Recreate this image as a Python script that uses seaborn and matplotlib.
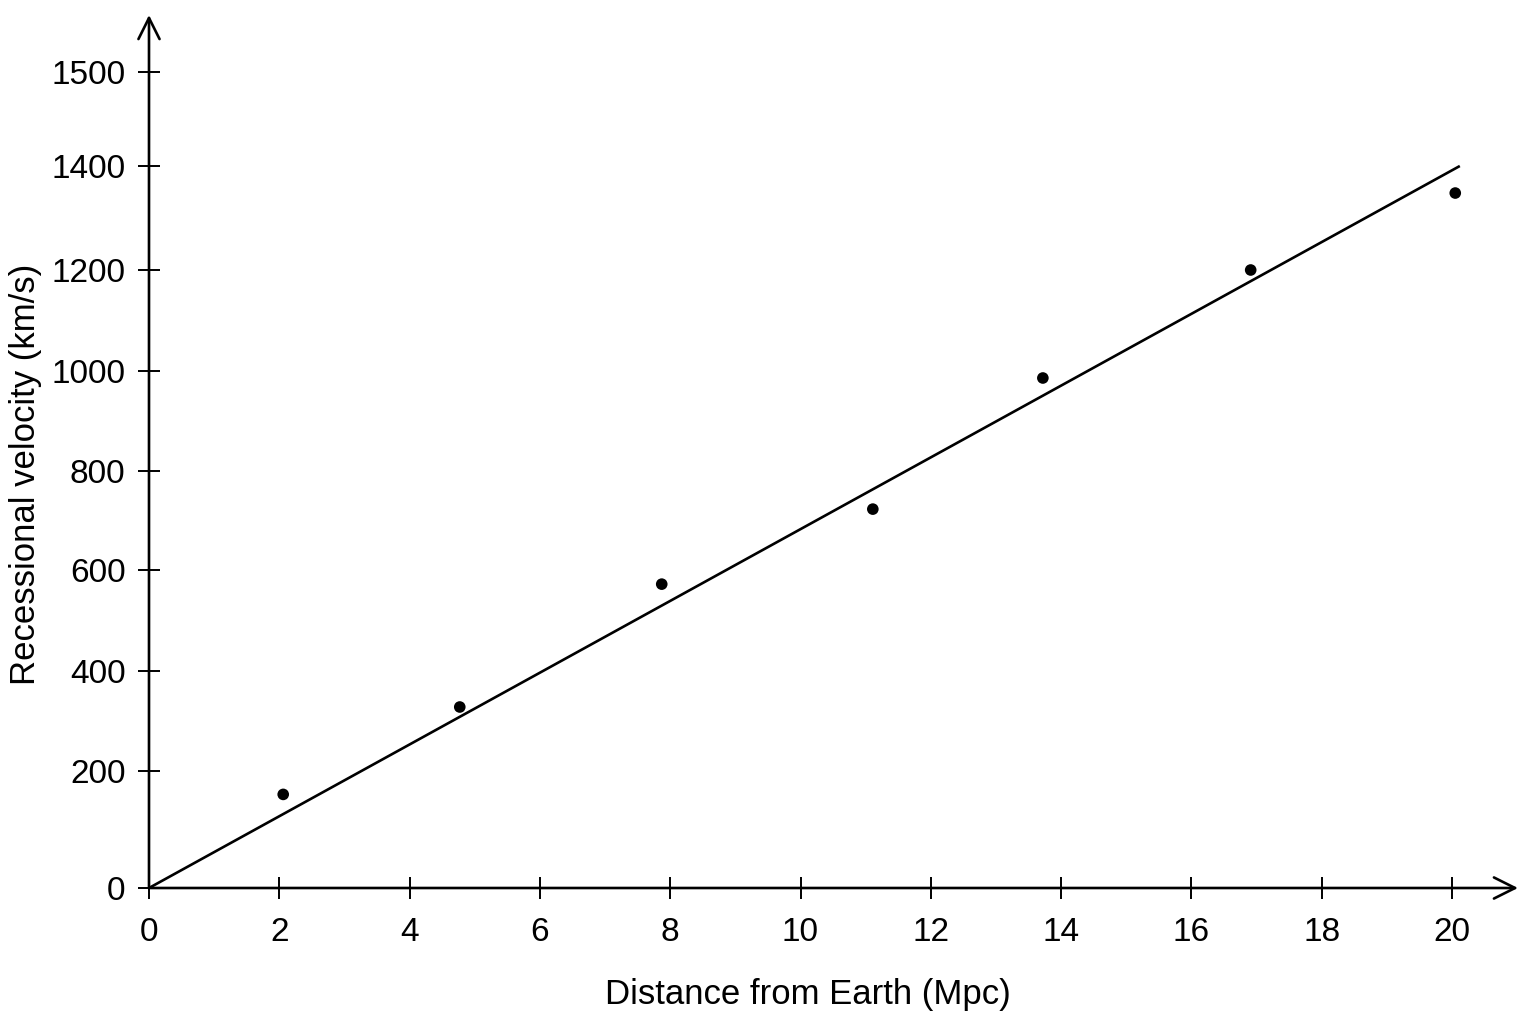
import numpy as np
import matplotlib
matplotlib.use("Agg")
import matplotlib.pyplot as plt
import seaborn as sns
import pandas as pd

# ---- data ----
distance_mpc = [2.06, 4.77, 7.87, 11.11, 13.72, 16.91, 20.05]
velocity_kms = [160, 328, 572, 723, 986, 1200, 1348]
fit_x = [0.0, 20.12]
fit_y = [0.0, 1400.0]
x_ticks = [0, 2, 4, 6, 8, 10, 12, 14, 16, 18, 20]
y_ticks = [0, 200, 400, 600, 800, 1000, 1200, 1400, 1500]
# printed (hand-drawn) axis: tick values and their spacing along the axis
y_scale_vals = [0, 200, 400, 600, 800, 1000, 1200, 1400, 1500, 1600]
y_scale_pos = [0, 117, 217, 318, 417, 517, 618, 722, 816, 910]

sns.set_theme(style="white")
plt.rcParams['font.family'] = ['Liberation Sans', 'DejaVu Sans']

df = pd.DataFrame({"d": distance_mpc, "v": velocity_kms})

fig = plt.figure(figsize=(15.36, 10.24), dpi=100)
ax = fig.add_axes([149/1536, 1 - 888/1024, (1518 - 149)/1536, (888 - 15)/1024])

def fwd(v):
    return np.interp(v, y_scale_vals, y_scale_pos)

def inv(p):
    return np.interp(p, y_scale_pos, y_scale_vals)

ax.set_yscale('function', functions=(fwd, inv))

ax.plot(fit_x, fit_y, color='black', lw=1.9, solid_capstyle='butt')
sns.scatterplot(data=df, x="d", y="v", ax=ax, color='black', s=70, edgecolor='none', zorder=3)

ax.set_xlim(0, (1518 - 149) / 65.15)
ax.set_ylim(0, inv(873))
ax.set_xticks(x_ticks)
ax.set_yticks(y_ticks)
ax.set_xticklabels([str(t) for t in x_ticks])
ax.set_yticklabels([str(t) for t in y_ticks])
ax.minorticks_off()
ax.tick_params(axis='both', direction='inout', length=16, width=1.4, color='black',
               labelsize=24, labelcolor='black', left=True, bottom=True)
ax.tick_params(axis='y', pad=9)
ax.tick_params(axis='x', pad=13)

for s in ax.spines.values():
    s.set_visible(False)

arrow = dict(arrowstyle='->', lw=1.9, color='black', mutation_scale=38, shrinkA=0, shrinkB=0)
ax.annotate('', xy=(1, 0), xytext=(0, 0), xycoords='axes fraction', arrowprops=arrow)
ax.annotate('', xy=(0, 1), xytext=(0, 0), xycoords='axes fraction', arrowprops=arrow)

ax.set_xlabel("Distance from Earth (Mpc)", fontsize=25, color='black')
ax.set_ylabel("Recessional velocity (km/s)", fontsize=25, color='black')
ax.xaxis.set_label_coords((808 - 149) / 1369, (888 - 978) / 873)
ax.yaxis.set_label_coords((42 - 149) / 1369, (888 - 474) / 873)

ax.set_facecolor('white')
fig.patch.set_facecolor('white')
fig.savefig("out.png", dpi=100, facecolor='white')
